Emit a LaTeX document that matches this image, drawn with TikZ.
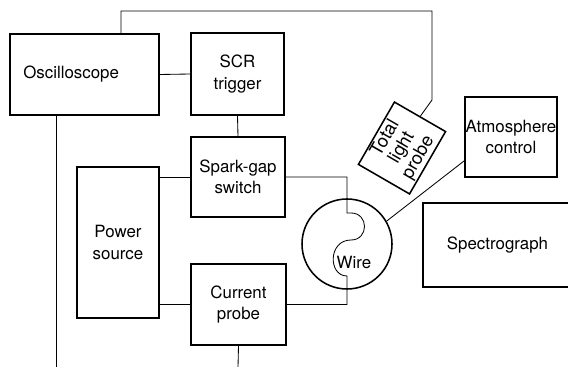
\documentclass[tikz,border=0pt]{standalone}
\usepackage{fontspec}
\setmainfont{TeX Gyre Heros}
\usetikzlibrary{calc}

\begin{document}
\begin{tikzpicture}[x=0.025cm,y=-0.025cm,
    box/.style={draw,line width=1.1pt,inner sep=0pt,align=center,
      font=\fontsize{12}{15}\selectfont},
    wire/.style={line width=0.6pt}]
    \def\pu{0.025cm}
    \useasboundingbox (0,0) rectangle (568,367);

    % blocks
    \node[box,minimum width=149*\pu,minimum height=81*\pu] (osc) at (84.5,74.5) {Oscilloscope\hspace*{19pt}};
    \node[box,minimum width=93*\pu,minimum height=82*\pu] (scr) at (237.5,74) {SCR\\trigger};
    \node[box,minimum width=94*\pu,minimum height=80*\pu] (spark) at (238,177) {Spark-gap\\switch};
    \node[box,minimum width=82*\pu,minimum height=151*\pu] (power) at (118,242.5) {Power\\source};
    \node[box,minimum width=95*\pu,minimum height=81*\pu] (current) at (238.5,304.5) {Current\\probe};
    \node[box,rotate=60,minimum width=72*\pu,minimum height=59*\pu,
      font=\fontsize{13}{13.5}\selectfont] (probe) at (402,148) {Total\\light\\probe};
    \node[box,minimum width=92*\pu,minimum height=80*\pu] (atm) at (511,137) {Atmosphere\\control};
    \node[box,minimum width=149*\pu,minimum height=84*\pu] (spec) at (497.5,245) {Spectrograph};
    \node[draw,circle,line width=1.1pt,minimum size=90*\pu] (chamber) at (347,244) {};
    \node[font=\fontsize{12}{15}\selectfont] (wiretxt) at (354,262) {Wire};

    \coordinate (topL) at (121,11);
    \coordinate (topR) at (432,11);
    \coordinate (bendP) at (432,100);
    \coordinate (wtop) at (347,213);
    \coordinate (wbot) at (347,276);
    \coordinate (oscEnd) at (56,367);
    \coordinate (curEnd) at (238,367);

    % connections
    \draw[wire] (osc.east) -- (scr.west);
    \draw[wire] (scr.south) -- (spark.north);
    \draw[wire] (osc.north -| topL) -- (topL) -- (topR) -- (bendP) -- (probe.east);
    \draw[wire] (osc.south -| oscEnd) -- (oscEnd);
    \draw[wire] (current.south) -- (curEnd);
    \draw[wire] (spark.west -| power.east) -- (spark.west);
    \draw[wire] (current.west -| power.east) -- (current.west);
    \draw[wire] (spark.east) -| (wtop) -- (351,213)
      .. controls (369,213) and (369,240) .. (351,240)
      .. controls (328,240) and (328,276) .. (wbot) |- (current.east);
    \draw[wire] (chamber.30) -- (atm.207);
\end{tikzpicture}
\end{document}
